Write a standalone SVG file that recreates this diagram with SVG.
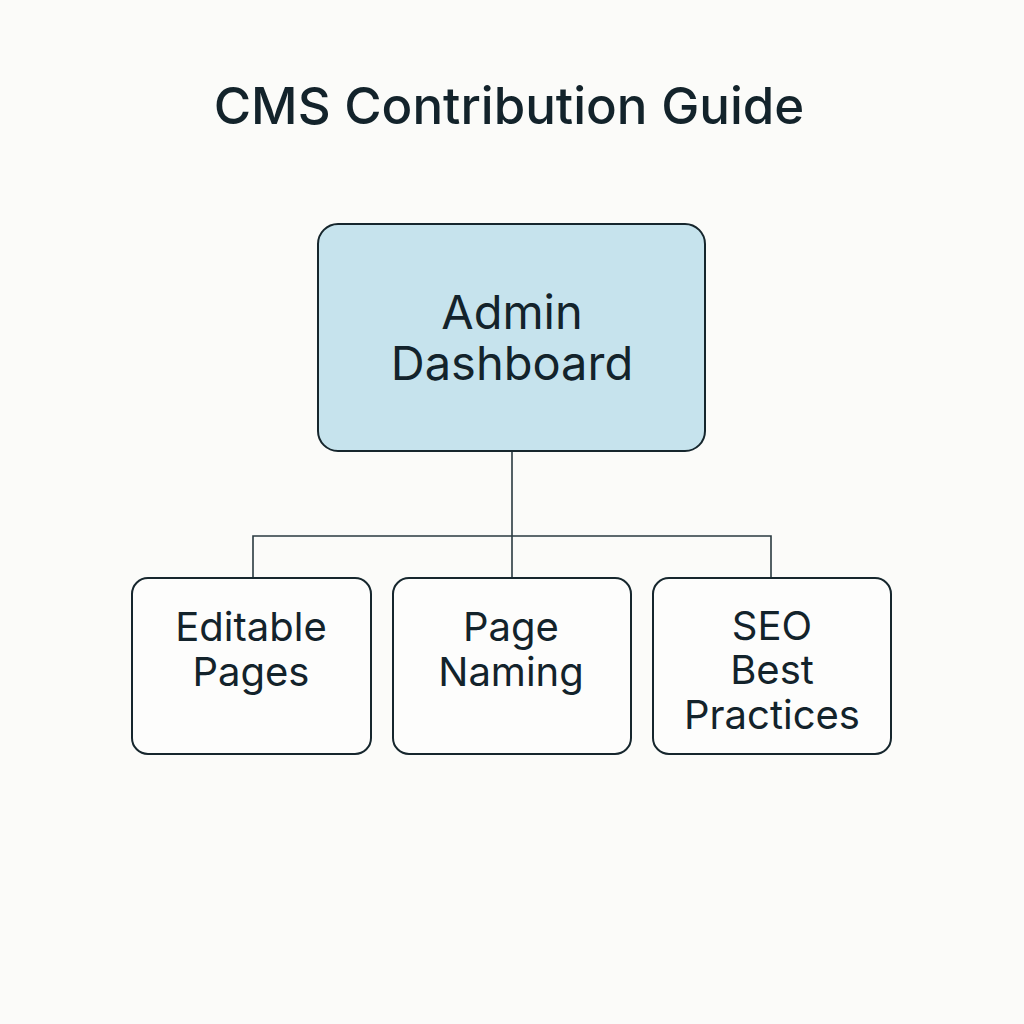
<svg xmlns="http://www.w3.org/2000/svg" width="1024" height="1024" viewBox="0 0 1024 1024">
<style>
.bg{fill:#fbfbf9}
.title{font-family:Inter,"Liberation Sans",sans-serif;font-size:51px;font-weight:500;fill:#13232b;text-anchor:middle}
.main{fill:#c6e3ed;stroke:#16262d;stroke-width:2}
.child{fill:#fdfdfc;stroke:#16262d;stroke-width:2}
.lbl{font-family:Inter,"Liberation Sans",sans-serif;fill:#13232b;text-anchor:middle}
.big{font-size:47px}
.sm{font-size:40px}
.conn{fill:none;stroke:#2a3a40;stroke-width:1.6}
</style>
<rect class="bg" width="1024" height="1024"/>
<text class="title" x="509" y="124">CMS Contribution Guide</text>
<g id="connectors">
<path class="conn" d="M512 451 V578"/>
<path class="conn" d="M253 578 V536 H771 V578"/>
</g>
<g id="admin-dashboard">
<rect class="main" x="318" y="224" width="387" height="227" rx="20"/>
<text class="lbl big" x="512" y="329">Admin</text>
<text class="lbl big" x="512" y="380">Dashboard</text>
</g>
<g id="editable-pages">
<rect class="child" x="132" y="578" width="239" height="176" rx="16"/>
<text class="lbl sm" x="251" y="641">Editable</text>
<text class="lbl sm" x="251" y="686">Pages</text>
</g>
<g id="page-naming">
<rect class="child" x="393" y="578" width="238" height="176" rx="16"/>
<text class="lbl sm" x="511" y="641">Page</text>
<text class="lbl sm" x="511" y="686">Naming</text>
</g>
<g id="seo-best-practices">
<rect class="child" x="653" y="578" width="238" height="176" rx="16"/>
<text class="lbl sm" x="772" y="640">SEO</text>
<text class="lbl sm" x="772" y="684">Best</text>
<text class="lbl sm" x="772" y="729">Practices</text>
</g>
</svg>
